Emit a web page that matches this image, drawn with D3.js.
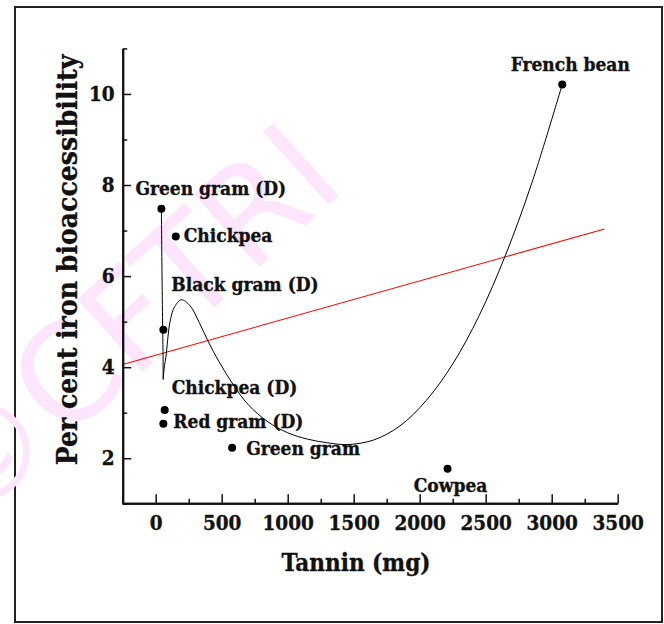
<!DOCTYPE html>
<html>
<head>
<meta charset="utf-8">
<script src="https://cdn.jsdelivr.net/npm/d3@7"></script>
<style>
  html, body { margin: 0; padding: 0; background: #fff; }
  svg { display: block; }
  .serif { font-family: "DejaVu Serif Condensed", "DejaVu Serif", serif; font-weight: bold; font-stretch: condensed;
           stroke: #111; stroke-width: 0.35px; }
</style>
</head>
<body>
<svg id="chart" width="664" height="624"></svg>
<script>
// Legume samples: tannin content vs. per cent iron bioaccessibility
const sampleNames = ["Green gram (D)", "Chickpea", "Black gram (D)", "Chickpea (D)",
                     "Red gram (D)", "Green gram", "Cowpea", "French bean"];
const tannin = [43, 152, 58, 68, 58, 579, 2211, 3080];
const bioaccessibility = [7.48, 6.87, 4.82, 3.06, 2.76, 2.23, 1.77, 10.21];

// Smoothed connecting curve (tannin, bioaccessibility)
const curveTannin = [43, 48, 53, 56, 57, 63, 81, 93, 111, 144, 195, 260, 330, 400, 480, 586,
                     700, 850, 1000, 1150, 1300, 1450, 1650, 1850, 2050, 2250, 2450, 2650, 2850, 3080];
const curveBio = [7.48, 6.0, 4.82, 4.2, 3.73, 3.95, 4.31, 4.67, 5.04, 5.33, 5.48, 5.35, 4.98, 4.55, 4.12, 3.62,
                  3.18, 2.8, 2.56, 2.42, 2.34, 2.3, 2.4, 2.71, 3.27, 4.07, 5.13, 6.46, 8.05, 10.21];

// Axis ticks
const xMajorTicks = [0, 500, 1000, 1500, 2000, 2500, 3000, 3500];
const xMinorTicks = [-250, 250, 750, 1250, 1750, 2250, 2750, 3250];
const yMajorTicks = [2, 4, 6, 8, 10];
const yMinorTicks = [1, 3, 5, 7, 9, 11];
const xDomain = [-250, 3500];
const yDomain = [1, 11];
const fitExtent = [-250, 3400];

// Label placement relative to each point (px): dx, dy, anchor
const labelPlacement = [
  [-26, -14, "start"], [8, 6, "start"], [8, -39, "start"], [7, -16, "start"],
  [10, 4, "start"], [14, 7, "start"], [3, 23, "middle"], [8, -13, "middle"]
];

const svg = d3.select("#chart");

// outer frame
svg.append("rect")
  .attr("x", 15).attr("y", 7).attr("width", 647).attr("height", 615)
  .attr("fill", "#fff").attr("stroke", "#222").attr("stroke-width", 2);

// faint watermark behind the plot
svg.append("text")
  .attr("transform", "translate(348,187) rotate(-42)")
  .attr("text-anchor", "end")
  .style("font-family", "'DejaVu Sans', sans-serif")
  .style("font-size", "134px")
  .attr("fill", "#fde6fd")
  .text("\u00A9CFTRI");

const x = d3.scaleLinear().domain(xDomain).range([122.7, 617.7]);
const y = d3.scaleLinear().domain(yDomain).range([503.8, 48.4]);

const plot = svg.append("g");

// Linear regression of the samples
const n = tannin.length;
const mx = d3.mean(tannin), my = d3.mean(bioaccessibility);
let sxy = 0, sxx = 0;
for (let i = 0; i < n; i++) {
  sxy += (tannin[i] - mx) * (bioaccessibility[i] - my);
  sxx += (tannin[i] - mx) ** 2;
}
const slope = sxy / sxx, intercept = my - slope * mx;
plot.append("line")
  .attr("x1", x(fitExtent[0])).attr("y1", y(intercept + slope * fitExtent[0]))
  .attr("x2", x(fitExtent[1])).attr("y2", y(intercept + slope * fitExtent[1]))
  .attr("stroke", "#ff0000").attr("stroke-width", 1.1);

// Connecting curve
const curvePts = curveTannin.map((t, i) => [t, curveBio[i]]);
plot.append("path")
  .attr("d", d3.line().x(d => x(d[0])).y(d => y(d[1])).curve(d3.curveCatmullRom.alpha(0.5))(curvePts))
  .attr("fill", "none").attr("stroke", "#000").attr("stroke-width", 1);

// Points
plot.selectAll("circle.pt").data(tannin).join("circle")
  .attr("class", "pt")
  .attr("cx", (d, i) => x(d)).attr("cy", (d, i) => y(bioaccessibility[i]))
  .attr("r", 4).attr("fill", "#000");

// Point labels
plot.selectAll("text.lbl").data(sampleNames).join("text")
  .attr("class", "lbl serif")
  .attr("x", (d, i) => x(tannin[i]) + labelPlacement[i][0])
  .attr("y", (d, i) => y(bioaccessibility[i]) + labelPlacement[i][1])
  .attr("text-anchor", (d, i) => labelPlacement[i][2])
  .style("font-size", "19px")
  .attr("fill", "#111")
  .text(d => d);

// Axes
const axisY0 = 503.3;
const xAxisMajor = d3.axisBottom(x).tickValues(xMajorTicks).tickSize(-9).tickSizeOuter(0)
  .tickPadding(12).tickFormat(d3.format("d"));
const xAxisMinor = d3.axisBottom(x).tickValues(xMinorTicks).tickSize(-4.5).tickSizeOuter(0).tickFormat("");
const yAxisMajor = d3.axisLeft(y).tickValues(yMajorTicks).tickSize(-8.5).tickSizeOuter(0)
  .tickPadding(8).tickFormat(d3.format("d"));
const yAxisMinor = d3.axisLeft(y).tickValues(yMinorTicks).tickSize(-4.5).tickSizeOuter(0).tickFormat("");

function styleAxis(g) {
  g.select(".domain").attr("stroke", "#111").attr("stroke-width", 2);
  g.selectAll(".tick line").attr("stroke", "#111").attr("stroke-width", 1.5);
  g.selectAll(".tick text").attr("class", "serif").attr("fill", "#111")
    .style("font-size", "20.5px");
}

svg.append("g").attr("transform", `translate(0,${axisY0})`).call(xAxisMinor).call(styleAxis);
svg.append("g").attr("transform", `translate(0,${axisY0})`).call(xAxisMajor).call(styleAxis);
svg.append("g").attr("transform", `translate(${x(xDomain[0])},0)`).call(yAxisMinor).call(styleAxis);
svg.append("g").attr("transform", `translate(${x(xDomain[0])},0)`).call(yAxisMajor).call(styleAxis);
svg.selectAll("g").attr("font-family", null);

// Axis titles
svg.append("text").attr("class", "serif")
  .attr("x", 356).attr("y", 570.7).attr("text-anchor", "middle")
  .style("font-size", "24px").attr("fill", "#111")
  .text("Tannin (mg)");

svg.append("text").attr("class", "serif")
  .attr("transform", "translate(77,260) rotate(-90)")
  .attr("text-anchor", "middle")
  .style("font-size", "28px").attr("fill", "#111")
  .text("Per cent iron bioaccessibility");
</script>
</body>
</html>
